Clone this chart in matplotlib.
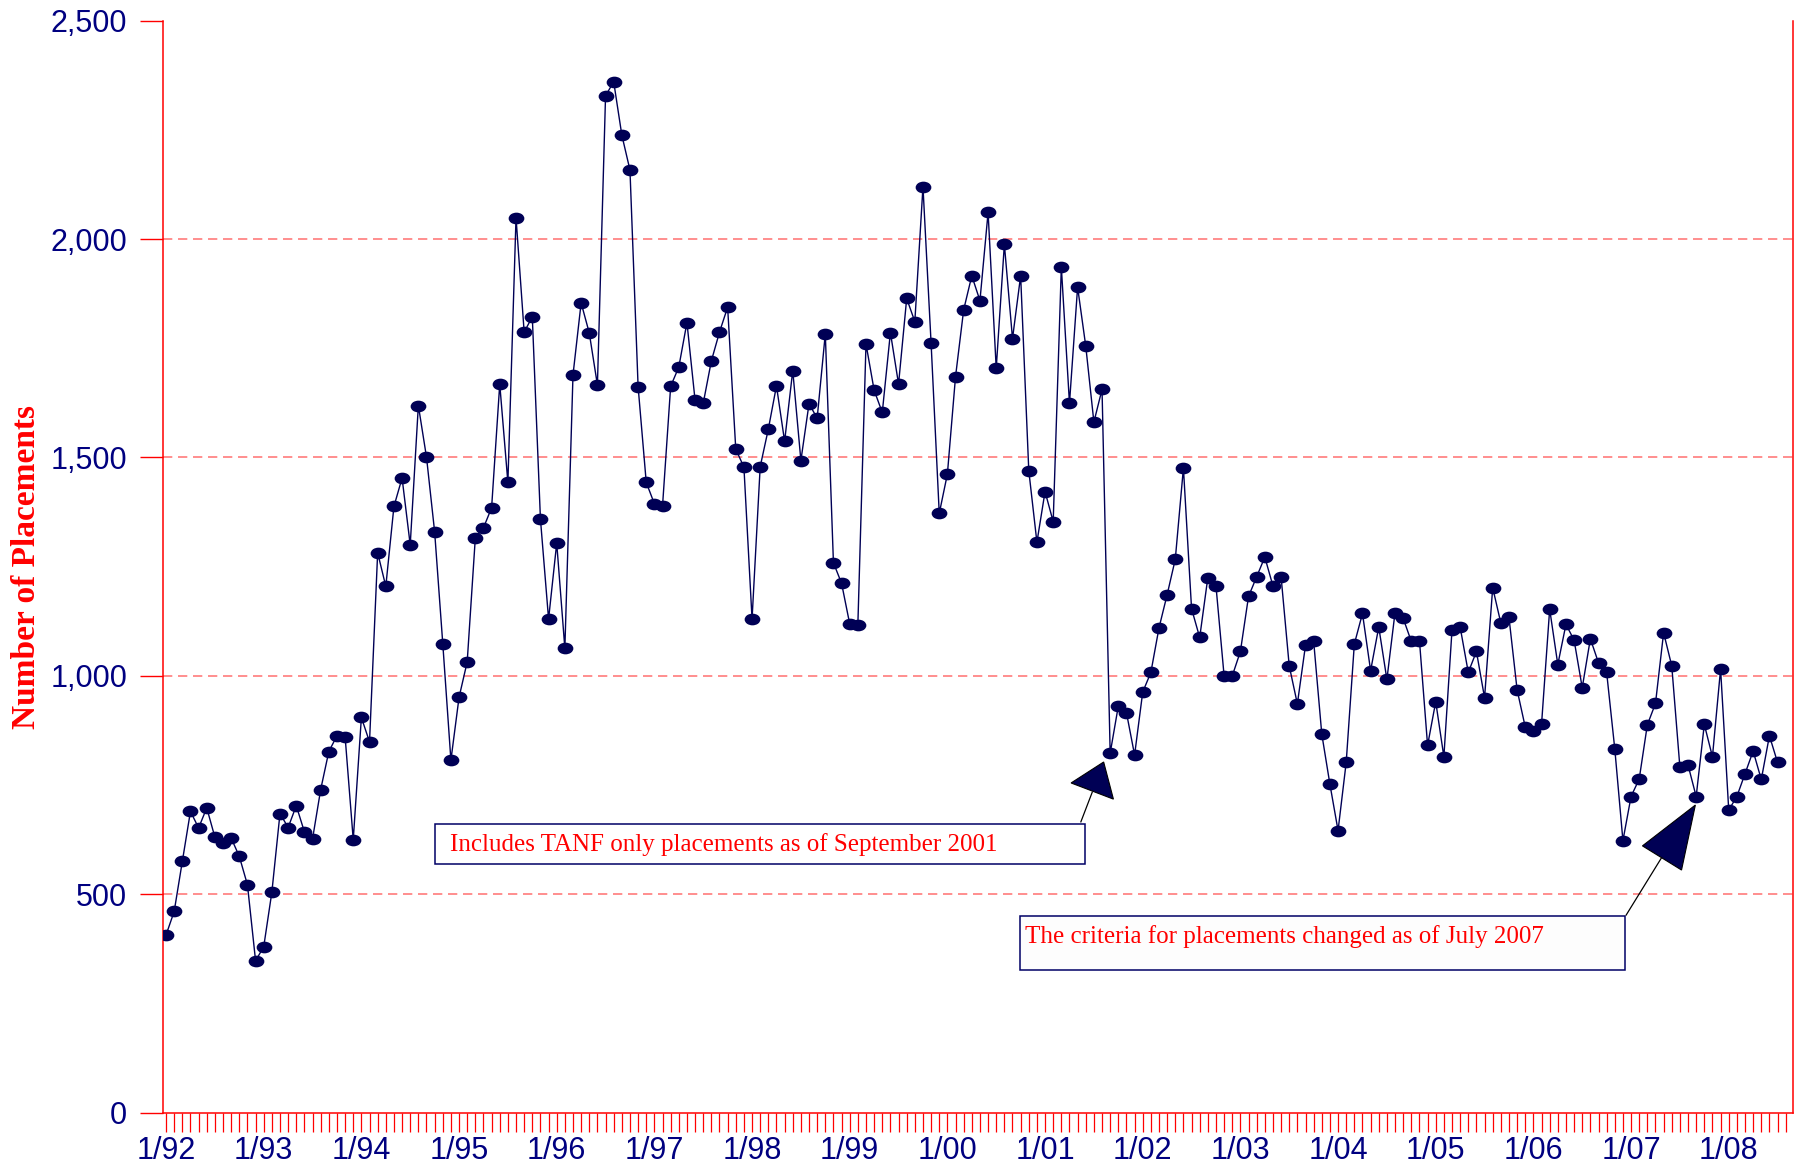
import matplotlib
matplotlib.use("Agg")
import matplotlib.pyplot as plt
from matplotlib.path import Path
from matplotlib.patches import Polygon, Rectangle

# monthly placements, 1/92 .. 7/08
placements = [
    407, 461, 576, 690, 652, 698, 631, 618, 629, 587, 522, 348,        # 1992
    380, 505, 685, 653, 703, 643, 627, 740, 827, 863, 861, 625,        # 1993
    905, 849, 1282, 1205, 1388, 1453, 1300, 1619, 1501, 1330, 1074, 807,  # 1994
    951, 1032, 1316, 1339, 1385, 1668, 1443, 2049, 1787, 1822, 1359, 1130,  # 1995
    1304, 1063, 1689, 1854, 1785, 1666, 2328, 2360, 2238, 2158, 1662, 1443,  # 1996
    1394, 1389, 1663, 1707, 1809, 1631, 1624, 1721, 1787, 1844, 1519, 1478,  # 1997
    1130, 1479, 1565, 1664, 1537, 1699, 1493, 1623, 1590, 1783, 1259, 1212,  # 1998
    1119, 1117, 1760, 1654, 1603, 1786, 1668, 1864, 1811, 2120, 1761, 1372,  # 1999
    1462, 1685, 1838, 1916, 1859, 2061, 1704, 1988, 1772, 1916, 1470, 1306,  # 2000
    1422, 1353, 1936, 1624, 1890, 1755, 1581, 1656, 823, 931, 916, 819,      # 2001
    963, 1008, 1110, 1186, 1267, 1476, 1154, 1088, 1225, 1206, 1000, 1000,   # 2002
    1056, 1182, 1227, 1272, 1206, 1227, 1023, 936, 1070, 1080, 867, 752,     # 2003
    646, 802, 1073, 1143, 1012, 1112, 992, 1145, 1132, 1079, 1081, 841,      # 2004
    941, 815, 1105, 1112, 1008, 1056, 950, 1202, 1121, 1134, 968, 883,       # 2005
    875, 889, 1153, 1026, 1118, 1082, 973, 1085, 1030, 1008, 833, 623,       # 2006
    724, 764, 888, 937, 1099, 1023, 791, 796, 724, 889, 815, 1016,           # 2007
    693, 724, 776, 828, 763, 863, 802,                                       # 2008
]
months = list(range(len(placements)))
year_labels = ["1/92", "1/93", "1/94", "1/95", "1/96", "1/97", "1/98", "1/99",
               "1/00", "1/01", "1/02", "1/03", "1/04", "1/05", "1/06", "1/07", "1/08"]
y_ticks = [0, 500, 1000, 1500, 2000, 2500]
y_labels = ["0", "500", "1,000", "1,500", "2,000", "2,500"]

note1 = "Includes TANF only placements as of September 2001"
note2 = "The criteria for placements changed as of July 2007"

NAVY = "#000055"
TXT = "#000080"
RED = "#ff0000"
plt.rcParams['lines.scale_dashes'] = False

fig = plt.figure(figsize=(17.95, 11.65), dpi=100)
ax = fig.add_axes([0.0906, 0.0448, 0.9083, 0.9375])

for v in y_ticks[1:-1]:
    ax.axhline(v, color="#ff7070", lw=1.1, dashes=(6.7, 4.1), zorder=1)

# ellipse marker
circ = Path.unit_circle()
ell = Path(circ.vertices * [1.0, 0.72], circ.codes)
ax.plot(months, placements, color=NAVY, lw=1.0, marker=ell, ms=10.3,
        mfc=NAVY, mec=NAVY, zorder=3)

ax.set_xlim(-0.42, 199.9)
ax.set_ylim(0, 2500)

ax.set_xticks(range(0, 200))
ax.set_xticklabels([year_labels[i // 12] if i % 12 == 0 else "" for i in range(200)],
                   fontsize=22, color=TXT, family="Liberation Sans")
ax.tick_params(axis="x", direction="out", length=13.7, width=0.9, color=RED, pad=3)
ax.set_yticks(y_ticks)
ax.set_yticklabels(y_labels, fontsize=22, color=TXT, family="Liberation Sans")
ax.tick_params(axis="y", direction="out", length=16.5, width=1.0, color=RED, pad=9)

ax.spines["top"].set_visible(False)
for s in ("left", "right", "bottom"):
    ax.spines[s].set_color(RED)
    ax.spines[s].set_linewidth(1.1)

fig.text(0.015, 0.513, "Number of Placements", rotation=90, ha="center", va="center",
         fontsize=24, fontweight="bold", color=RED, family="Liberation Serif")

# annotation 1
ax.add_patch(Rectangle((33.0, 569.5), 79.9, 91.5, fc="white", ec="#000066", lw=1.1, zorder=4))
ax.text(34.9, 615, note1, fontsize=18, color=RED, family="Liberation Serif",
        ha="left", va="center", zorder=5)
ax.plot([112.4, 113.8], [666, 734], color="black", lw=0.9, zorder=4)
ax.add_patch(Polygon([(115.2, 803), (111.2, 755), (116.4, 718)], closed=True,
                     fc=NAVY, ec="black", lw=0.8, zorder=4))

# annotation 2
ax.add_patch(Rectangle((104.9, 326.8), 74.4, 123.6, fc="#fdfdfd", ec="#000066", lw=1.1, zorder=4))
ax.text(105.5, 404, note2, fontsize=18, color=RED, family="Liberation Serif",
        ha="left", va="center", zorder=5)
ax.plot([179.4, 183.7], [452.7, 582.5], color="black", lw=0.9, zorder=4)
ax.add_patch(Polygon([(187.9, 704.5), (181.4, 611), (186.2, 555.7)], closed=True,
                     fc=NAVY, ec="black", lw=0.8, zorder=4))

fig.savefig("out.png", dpi=100)
